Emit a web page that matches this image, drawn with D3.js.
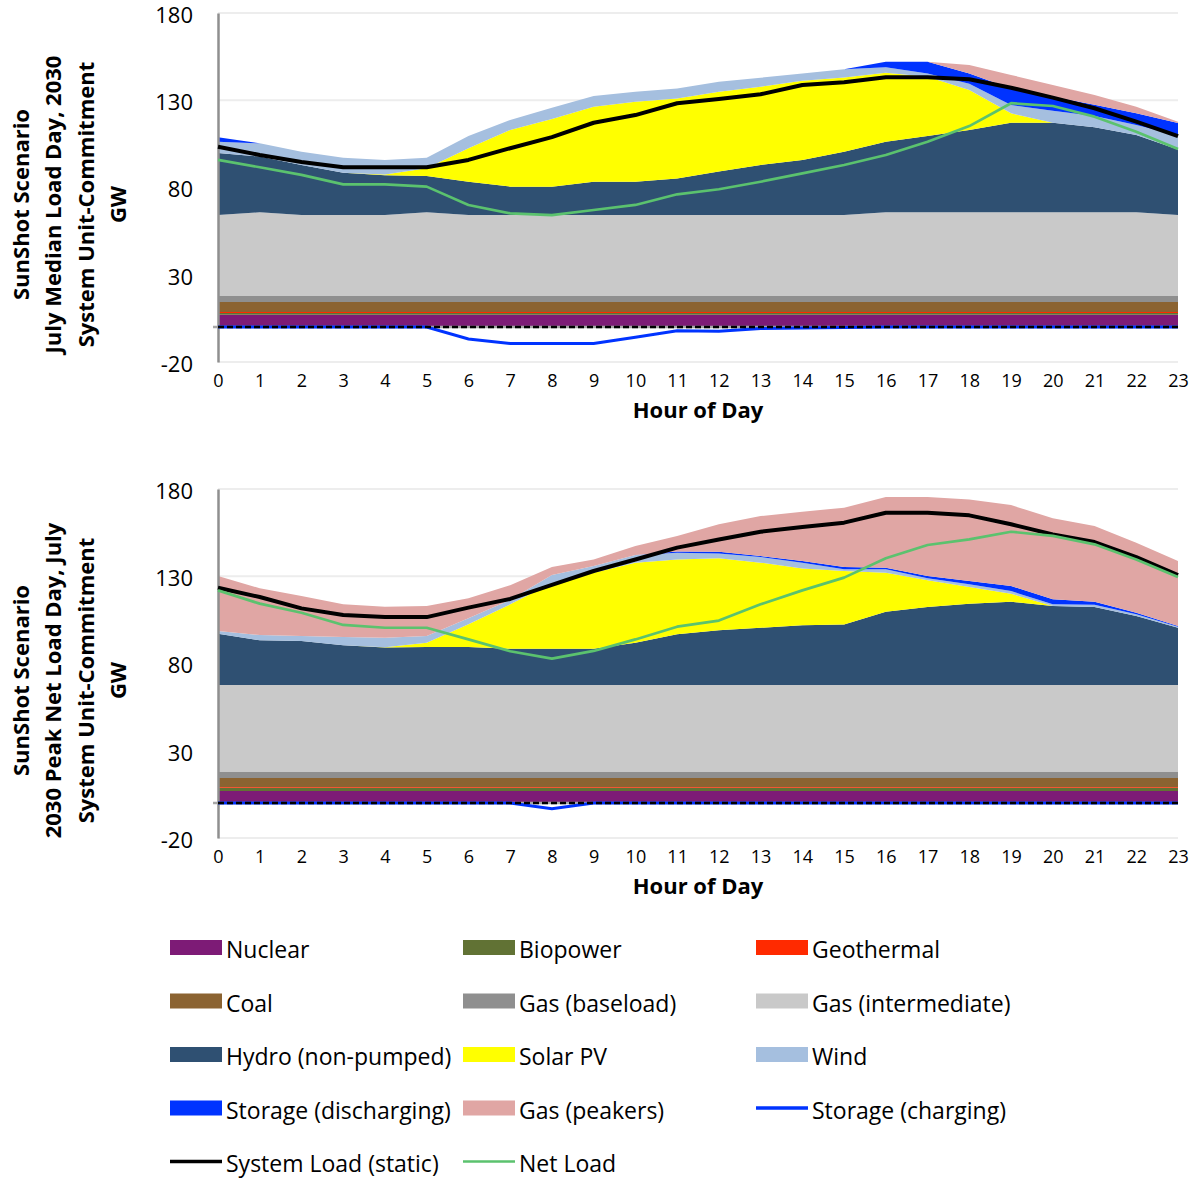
<!DOCTYPE html>
<html>
<head>
<meta charset="utf-8">
<script src="https://cdn.jsdelivr.net/npm/d3@7"></script>
<style>
  body { margin: 0; background: #fff; }
  svg { display: block; font-family: "Open Sans", "Noto Sans", sans-serif; }
</style>
</head>
<body>
<svg id="chart" width="1196" height="1179"></svg>
<script>
// ---- Shared axis definitions ----
const hours = [0, 1, 2, 3, 4, 5, 6, 7, 8, 9, 10, 11, 12, 13, 14, 15, 16, 17, 18, 19, 20, 21, 22, 23];
const yTicks = [-20, 30, 80, 130, 180];

// ---- July median load day (GW by hour) ----
const medianNuclear    = [7.1, 7.1, 7.1, 7.1, 7.1, 7.1, 7.1, 7.1, 7.1, 7.1, 7.1, 7.1, 7.1, 7.1, 7.1, 7.1, 7.1, 7.1, 7.1, 7.1, 7.1, 7.1, 7.1, 7.1];
const medianBiopower   = [1.0, 1.0, 1.0, 1.0, 1.0, 1.0, 1.0, 1.0, 1.0, 1.0, 1.0, 1.0, 1.0, 1.0, 1.0, 1.0, 1.0, 1.0, 1.0, 1.0, 1.0, 1.0, 1.0, 1.0];
const medianGeothermal = [0.6, 0.6, 0.6, 0.6, 0.6, 0.6, 0.6, 0.6, 0.6, 0.6, 0.6, 0.6, 0.6, 0.6, 0.6, 0.6, 0.6, 0.6, 0.6, 0.6, 0.6, 0.6, 0.6, 0.6];
const medianCoal       = [5.7, 5.7, 5.7, 5.7, 5.7, 5.7, 5.7, 5.7, 5.7, 5.7, 5.7, 5.7, 5.7, 5.7, 5.7, 5.7, 5.7, 5.7, 5.7, 5.7, 5.7, 5.7, 5.7, 5.7];
const medianGasBase    = [3.4, 3.4, 3.4, 3.4, 3.4, 3.4, 3.4, 3.4, 3.4, 3.4, 3.4, 3.4, 3.4, 3.4, 3.4, 3.4, 3.4, 3.4, 3.4, 3.4, 3.4, 3.4, 3.4, 3.4];
const medianGasInt     = [46.4, 48.0, 46.4, 46.4, 46.4, 48.0, 46.4, 46.4, 46.4, 46.4, 46.4, 46.4, 46.4, 46.4, 46.4, 46.4, 48.0, 48.0, 48.0, 48.0, 48.0, 48.0, 48.0, 46.4];
const medianHydro      = [35.6, 31.9, 28.7, 24.3, 22.8, 20.8, 19.1, 16.3, 16.3, 19.1, 19.1, 21.0, 24.9, 28.7, 31.6, 36.3, 40.4, 43.7, 47.1, 51.3, 51.3, 48.7, 44.3, 37.6];
const medianSolar      = [0, 0, 0, 0, 0.5, 4.4, 19.2, 32.5, 38.8, 43.0, 45.9, 45.8, 45.8, 44.9, 45.4, 42.6, 39.6, 34.0, 23.0, 5.4, 0, 0, 0, 0];
const medianWind       = [6.4, 7.6, 7.6, 8.6, 8.3, 6.1, 7.0, 5.7, 6.4, 6.1, 5.7, 5.8, 5.7, 5.1, 4.2, 4.6, 3.1, 1.9, 3.6, 4.8, 6.9, 6.5, 5.7, 8.2];
const medianStorageDis = [2.6, 0, 0, 0, 0, 0, 0, 0, 0, 0, 0, 0, 0, 0, 0, 0, 3.2, 6.7, 5.9, 9.5, 8.0, 6.4, 6.7, 7.0];
const medianPeakers    = [0, 0, 0, 0, 0, 0, 0, 0, 0, 0, 0, 0, 0, 0, 0, 0, 0, 0, 4.8, 7.7, 6.8, 5.6, 3.8, 0.7];
const medianCharging   = [0, 0, 0, 0, 0, 0, -6.8, -9.4, -9.4, -9.4, -5.8, -2.1, -2.4, -0.8, -0.5, -0.3, 0, 0, 0, 0, 0, 0, 0, 0];
const medianLoad       = [103.4, 98.6, 94.6, 91.6, 91.6, 91.6, 95.8, 102.5, 108.9, 117.1, 121.5, 128.3, 130.7, 133.4, 138.7, 140.3, 143.2, 143.2, 142.0, 137.2, 131.5, 125.4, 117.7, 109.5];
const medianNetLoad    = [95.8, 91.6, 87.2, 81.8, 81.8, 80.5, 70.0, 65.2, 64.2, 67.1, 70.0, 76.1, 79.0, 83.3, 88.1, 92.9, 98.6, 106.2, 115.2, 128.3, 126.7, 120.6, 112.0, 102.1];

// ---- 2030 peak net load day, July (GW by hour) ----
const peakNuclear    = [6.9, 6.9, 6.9, 6.9, 6.9, 6.9, 6.9, 6.9, 6.9, 6.9, 6.9, 6.9, 6.9, 6.9, 6.9, 6.9, 6.9, 6.9, 6.9, 6.9, 6.9, 6.9, 6.9, 6.9];
const peakBiopower   = [1.9, 1.9, 1.9, 1.9, 1.9, 1.9, 1.9, 1.9, 1.9, 1.9, 1.9, 1.9, 1.9, 1.9, 1.9, 1.9, 1.9, 1.9, 1.9, 1.9, 1.9, 1.9, 1.9, 1.9];
const peakGeothermal = [0.4, 0.4, 0.4, 0.4, 0.4, 0.4, 0.4, 0.4, 0.4, 0.4, 0.4, 0.4, 0.4, 0.4, 0.4, 0.4, 0.4, 0.4, 0.4, 0.4, 0.4, 0.4, 0.4, 0.4];
const peakCoal       = [5.2, 5.2, 5.2, 5.2, 5.2, 5.2, 5.2, 5.2, 5.2, 5.2, 5.2, 5.2, 5.2, 5.2, 5.2, 5.2, 5.2, 5.2, 5.2, 5.2, 5.2, 5.2, 5.2, 5.2];
const peakGasBase    = [3.4, 3.4, 3.4, 3.4, 3.4, 3.4, 3.4, 3.4, 3.4, 3.4, 3.4, 3.4, 3.4, 3.4, 3.4, 3.4, 3.4, 3.4, 3.4, 3.4, 3.4, 3.4, 3.4, 3.4];
const peakGasInt     = [49.9, 49.9, 49.9, 49.9, 49.9, 49.9, 49.9, 49.9, 49.9, 49.9, 49.9, 49.9, 49.9, 49.9, 49.9, 49.9, 49.9, 49.9, 49.9, 49.9, 49.9, 49.9, 49.9, 49.9];
const peakHydro      = [29.4, 25.6, 25.2, 22.7, 21.4, 21.8, 21.8, 20.8, 20.8, 20.7, 24.2, 29.0, 31.3, 32.8, 34.2, 34.7, 42.0, 44.7, 46.6, 47.7, 45.3, 44.7, 39.5, 32.8];
const peakSolar      = [0, 0, 0, 0, 0.2, 2.4, 13.0, 25.4, 37.5, 43.6, 45.9, 42.9, 41.3, 37.3, 32.6, 30.6, 22.3, 15.3, 9.5, 4.6, 0, 0, 0, 0];
const peakWind       = [1.5, 3.0, 2.9, 4.8, 5.5, 3.9, 3.4, 2.6, 4.7, 3.9, 4.4, 3.9, 2.7, 3.2, 3.3, 1.0, 2.0, 1.1, 1.6, 1.5, 0.9, 1.3, 1.0, 0.5];
const peakStorageDis = [0, 0, 0, 0, 0, 0, 0, 0, 0, 0, 0, 0.7, 1.1, 0.6, 0.9, 1.3, 0.9, 1.3, 1.9, 2.9, 2.9, 1.7, 0.9, 0.5];
const peakPeakers    = [31.5, 26.8, 22.9, 18.7, 17.7, 17.2, 11.5, 8.4, 4.6, 3.7, 5.1, 8.9, 15.7, 22.9, 28.3, 34.0, 40.5, 45.3, 46.7, 46.4, 46.4, 43.4, 40.1, 37.2];
const peakCharging   = [0, 0, 0, 0, 0, 0, 0, 0, -3.3, 0, 0, 0, 0, 0, 0, 0, 0, 0, 0, 0, 0, 0, 0, 0];
const peakLoad       = [123.4, 118.1, 111.6, 107.8, 106.6, 106.6, 112.0, 117.0, 125.0, 133.0, 139.6, 146.4, 151.1, 155.5, 158.2, 160.7, 166.4, 166.4, 164.9, 159.8, 154.0, 149.6, 141.0, 130.7];
const peakNetLoad    = [121.9, 114.3, 109.1, 102.1, 100.5, 100.5, 93.8, 87.0, 82.8, 87.2, 93.8, 101.1, 104.6, 113.9, 121.9, 129.2, 140.3, 147.9, 151.1, 155.5, 153.1, 148.3, 139.6, 129.6];

// ---- Series names and colours (stacking order, bottom to top) ----
const areaKeys = ["nuclear", "biopower", "geothermal", "coal", "gasBase", "gasInt", "hydro", "solar", "wind", "storageDis", "peakers"];
const areaNames = ["Nuclear", "Biopower", "Geothermal", "Coal", "Gas (baseload)", "Gas (intermediate)", "Hydro (non-pumped)", "Solar PV", "Wind", "Storage (discharging)", "Gas (peakers)"];
const areaColors = ["#7D1B76", "#617234", "#FF2A00", "#8B6331", "#8F8F8F", "#C9C9C9", "#2F5072", "#FFFF00", "#A5BFDF", "#0033FF", "#E0A6A4"];
const lineNames = ["Storage (charging)", "System Load (static)", "Net Load"];
const lineColors = ["#0033FF", "#000000", "#5BC26E"];

const svg = d3.select("#chart");
svg.append("rect").attr("width", 1196).attr("height", 1179).attr("fill", "#fff");

const x = d3.scaleLinear().domain([0, 23]).range([218, 1178]);

function buildRows(series) {
  return hours.map((h, i) => {
    const row = { hour: h };
    areaKeys.forEach((k, j) => { row[k] = series[j][i]; });
    return row;
  });
}

function drawPanel(cfg) {
  const g = svg.append("g");
  const y = d3.scaleLinear().domain([-20, 180]).range([cfg.bottom, cfg.top]);

  // horizontal gridlines
  g.append("g").selectAll("line").data(yTicks).join("line")
    .attr("x1", x(0)).attr("x2", x(23))
    .attr("y1", d => y(d)).attr("y2", d => y(d))
    .attr("stroke", "#EDEDED").attr("stroke-width", 2);

  // stacked generation areas
  const stack = d3.stack().keys(areaKeys);
  const layers = stack(buildRows(cfg.areas));
  const area = d3.area()
    .x(d => x(d.data.hour))
    .y0(d => y(d[0]))
    .y1(d => y(d[1]));
  g.append("g").selectAll("path").data(layers).join("path")
    .attr("d", area)
    .attr("fill", (d, i) => areaColors[i]);

  // vertical value axis (plain hyphen for negatives)
  const yAxis = d3.axisLeft(y).tickValues(yTicks).tickSize(0).tickPadding(25)
    .tickFormat(d => String(d));
  const ya = g.append("g").attr("transform", `translate(${x(0)},0)`).call(yAxis);
  ya.select(".domain").attr("stroke", "#8F8F8F").attr("stroke-width", 2.5);
  ya.selectAll("text").attr("font-size", 22).attr("fill", "#000")
    .attr("font-family", "'Open Sans', sans-serif").attr("dy", "0.42em");

  // hour labels below the plot
  const xAxis = d3.axisBottom(x).tickValues(hours).tickSize(0).tickPadding(12).tickFormat(d => String(d));
  const xa = g.append("g").attr("transform", `translate(0,${y(-20)})`).call(xAxis);
  xa.select(".domain").remove();
  xa.selectAll("text").attr("font-size", 18).attr("fill", "#000")
    .attr("font-family", "'Open Sans', sans-serif");

  // category axis line at zero
  g.append("line")
    .attr("x1", x(0) - 5).attr("x2", x(23))
    .attr("y1", y(0)).attr("y2", y(0))
    .attr("stroke", "#A6A6A6").attr("stroke-width", 2.5);

  const line = d3.line().x((d, i) => x(hours[i])).y(d => y(d));

  // storage charging (negative)
  g.append("path").datum(cfg.charging)
    .attr("d", line).attr("fill", "none")
    .attr("stroke", lineColors[0]).attr("stroke-width", 3);

  // dashed zero reference
  g.append("line")
    .attr("x1", x(0)).attr("x2", x(23))
    .attr("y1", y(0)).attr("y2", y(0))
    .attr("stroke", "#000").attr("stroke-width", 2.5)
    .attr("stroke-dasharray", "6,3");

  // system load
  g.append("path").datum(cfg.load)
    .attr("d", line).attr("fill", "none")
    .attr("stroke", lineColors[1]).attr("stroke-width", 4)
    .attr("stroke-linejoin", "round");

  // net load
  g.append("path").datum(cfg.netLoad)
    .attr("d", line).attr("fill", "none")
    .attr("stroke", lineColors[2]).attr("stroke-width", 2.7)
    .attr("stroke-linejoin", "round");

  // axis titles
  g.append("text")
    .attr("x", (x(0) + x(23)) / 2).attr("y", cfg.bottom + 56)
    .attr("text-anchor", "middle").attr("font-size", 22).attr("font-weight", 700)
    .text("Hour of Day");

  const cy = (cfg.top + cfg.bottom) / 2 + 17;
  const baselines = [29, 61, 94, 126];
  cfg.titleLines.forEach((t, i) => {
    g.append("text")
      .attr("transform", `translate(${baselines[i]},${cy}) rotate(-90)`)
      .attr("text-anchor", "middle").attr("font-size", 22).attr("font-weight", 700)
      .text(t);
  });
}

drawPanel({
  top: 13, bottom: 362,
  areas: [medianNuclear, medianBiopower, medianGeothermal, medianCoal, medianGasBase, medianGasInt,
          medianHydro, medianSolar, medianWind, medianStorageDis, medianPeakers],
  charging: medianCharging, load: medianLoad, netLoad: medianNetLoad,
  titleLines: ["SunShot Scenario", "July Median Load Day, 2030", "System Unit-Commitment", "GW"]
});

drawPanel({
  top: 489, bottom: 838,
  areas: [peakNuclear, peakBiopower, peakGeothermal, peakCoal, peakGasBase, peakGasInt,
          peakHydro, peakSolar, peakWind, peakStorageDis, peakPeakers],
  charging: peakCharging, load: peakLoad, netLoad: peakNetLoad,
  titleLines: ["SunShot Scenario", "2030 Peak Net Load Day, July", "System Unit-Commitment", "GW"]
});

// ---- Legend: three columns, five rows ----
const legendItems = areaNames.map((n, i) => ({ name: n, color: areaColors[i], type: "area" }))
  .concat(lineNames.map((n, i) => ({ name: n, color: lineColors[i], type: "line" })));
const colX = [170, 463, 756];
const rowY0 = 947.5, rowStep = 53.5;
const lg = svg.append("g");
legendItems.forEach((item, i) => {
  const cx = colX[i % 3];
  const cy = rowY0 + Math.floor(i / 3) * rowStep;
  if (item.type === "area") {
    lg.append("rect").attr("x", cx).attr("y", cy - 7.5).attr("width", 52).attr("height", 15)
      .attr("fill", item.color);
  } else {
    lg.append("line").attr("x1", cx).attr("x2", cx + 52).attr("y1", cy).attr("y2", cy)
      .attr("stroke", item.color).attr("stroke-width", item.name === "Net Load" ? 2.7 : 3.5);
  }
  lg.append("text").attr("x", cx + 56).attr("y", cy + 10.5)
    .attr("font-size", 23).attr("fill", "#000").text(item.name);
});
</script>
</body>
</html>
